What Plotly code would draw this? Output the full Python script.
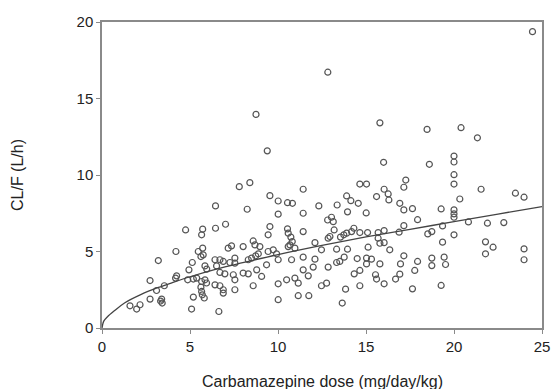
import plotly.graph_objects as go

dose_a = [24.46, 20.4, 21.33, 20.0, 20.0, 20.0, 20.0, 21.54, 23.49, 23.98, 20.33, 19.27, 20.0, 20.0, 20.0,
          20.82, 21.9, 22.83, 19.35, 19.35, 20.0, 21.79, 22.22, 21.79, 23.98, 23.98, 19.44, 19.52, 19.27]
clf_a = [19.37, 13.09, 12.43, 11.24, 10.85, 10.02, 9.41, 9.07, 8.81, 8.55, 8.43, 7.78, 7.72, 7.46, 7.24,
         6.93, 6.85, 6.89, 6.67, 5.61, 6.09, 5.63, 5.28, 4.85, 5.17, 4.46, 4.63, 4.15, 2.78]

dose_b = [18.47, 18.6, 17.26, 17.15, 16.92, 17.15, 17.64, 17.93, 17.15, 16.88, 18.51, 18.74, 17.15, 16.96,
          17.93, 17.77, 18.74, 18.74, 16.92, 16.68, 17.64]
clf_b = [12.98, 10.7, 9.67, 9.2, 8.15, 7.72, 7.8, 7.08, 6.69, 6.26, 6.15, 6.3, 4.72, 4.19,
         4.35, 3.76, 4.57, 4.08, 3.52, 3.2, 2.56]

dose_c = [15.79, 16.0, 14.65, 15.03, 16.03, 16.26, 16.3, 15.6, 13.9, 14.14, 14.56, 13.36, 13.95, 15.01,
          13.04, 13.14, 12.82, 14.31, 14.18, 13.9, 13.74, 13.55, 14.65, 15.09, 15.69, 16.03, 13.19, 12.95,
          15.69, 15.79, 16.03, 16.35, 15.12, 12.85, 13.33, 13.95, 13.76, 13.51, 13.33, 14.5, 15.03, 15.31,
          15.79, 15.03, 12.85, 14.65, 14.33, 15.54, 15.6, 16.03, 14.65, 13.84, 13.65, 12.76, 12.83]
clf_c = [13.41, 10.83, 9.41, 9.41, 9.07, 8.76, 8.37, 8.59, 8.63, 8.32, 8.15, 8.04, 7.59, 7.52,
         7.24, 6.95, 7.06, 6.52, 6.3, 6.2, 6.09, 5.94, 6.24, 6.24, 6.24, 6.37, 6.41, 5.98,
         5.87, 5.54, 5.58, 5.11, 5.28, 5.87, 5.15, 5.15, 4.63, 4.35, 4.28, 4.54, 4.57, 4.5,
         4.19, 4.19, 3.98, 3.76, 3.54, 3.48, 3.2, 2.89, 2.76, 2.54, 1.63, 2.93, 16.72]

dose_d = [8.75, 9.39, 7.8, 8.4, 11.43, 9.54, 10.01, 10.54, 10.82, 12.32, 8.25, 10.01, 11.43, 7.02, 9.54,
          10.54, 9.44, 11.43, 10.58, 10.73, 10.81, 10.68, 12.1, 8.59, 8.69, 8.97, 7.36, 7.17, 8.02, 9.44,
          9.73, 9.92, 10.58, 10.96, 12.47, 6.7, 6.89, 7.27, 7.55, 7.55, 8.31, 8.5, 8.73, 8.88, 10.01,
          10.77, 11.43, 12.1, 12.0, 6.7, 6.98, 7.46, 7.55, 8.02, 8.31, 8.79, 9.07, 9.35, 11.43, 11.72,
          6.7, 6.89, 6.89, 7.55, 8.59, 10.01, 10.49, 10.96, 11.15, 12.47, 10.01, 11.15, 11.75]
clf_d = [13.96, 11.58, 9.24, 9.5, 9.07, 8.65, 8.3, 8.19, 8.15, 7.98, 7.76, 7.44, 7.5, 6.78, 6.63,
         6.48, 6.09, 6.3, 6.2, 5.94, 5.65, 5.43, 5.58, 5.69, 5.43, 5.32, 5.37, 5.22, 5.32, 5.0,
         5.11, 4.85, 5.32, 5.22, 5.11, 4.46, 4.35, 4.28, 4.57, 4.24, 4.46, 4.57, 4.72, 4.85, 4.46,
         4.46, 4.63, 4.5, 3.98, 3.63, 3.54, 3.48, 3.15, 3.59, 3.54, 3.8, 3.37, 4.13, 3.8, 3.41,
         2.76, 2.5, 2.28, 2.5, 2.76, 2.89, 3.15, 3.26, 2.93, 2.76, 1.85, 2.11, 2.11]

dose_e = [4.75, 5.72, 5.66, 6.45, 6.45, 4.2, 3.2, 5.47, 5.72, 5.62, 5.75, 5.13, 4.94, 5.85, 5.95, 6.42,
          6.51, 4.24, 4.18, 2.73, 3.54, 4.87, 5.19, 5.38, 5.66, 5.85, 5.94, 6.42, 3.1, 5.62, 5.66, 5.7,
          5.81, 5.19, 2.73, 3.39, 3.42, 3.33, 1.59, 1.97, 2.16, 5.09, 6.64]
clf_e = [6.41, 6.46, 6.09, 7.98, 6.52, 5.0, 4.41, 5.0, 5.22, 4.67, 4.78, 4.28, 3.8, 4.06, 3.85, 4.46,
         4.06, 3.41, 3.26, 3.1, 2.76, 3.15, 3.2, 3.26, 3.04, 3.15, 2.94, 2.82, 2.45, 2.67, 2.39, 2.17,
         1.96, 2.02, 1.89, 1.89, 1.63, 1.76, 1.45, 1.24, 1.52, 1.24, 1.08]

# Fitted population curve
fit_dose = [0, 0.1, 0.3, 0.7, 1.3, 2.2, 3.2, 4.0, 5.0, 6.5, 8.0, 10.0, 12.5, 15.0, 17.5, 20.0, 22.5, 25.0]
fit_clf = [0, 0.45, 0.72, 1.12, 1.65, 2.18, 2.65, 2.97, 3.35, 3.85, 4.27, 4.8, 5.4, 5.95, 6.45, 6.95, 7.45, 7.93]

x_ticks = [0, 5, 10, 15, 20, 25]
y_ticks = [0, 5, 10, 15, 20]
x_title = "Carbamazepine dose (mg/day/kg)"
y_title = "CL/F (L/h)"

dose = dose_a + dose_b + dose_c + dose_d + dose_e
clf = clf_a + clf_b + clf_c + clf_d + clf_e

FONT = "Liberation Sans, Arial, sans-serif"

fig = go.Figure()
fig.add_trace(go.Scatter(
    x=dose, y=clf, mode="markers",
    marker=dict(symbol="circle-open", size=6, color="#555555", line=dict(width=1.2, color="#555555")),
    showlegend=False, cliponaxis=False,
))
fig.add_trace(go.Scatter(
    x=fit_dose, y=fit_clf, mode="lines", line=dict(color="#444444", width=1.3, shape="spline"),
    showlegend=False,
))

axis_common = dict(
    showgrid=False, zeroline=False, showline=True, linecolor="#8a8a8a", linewidth=1.5,
    mirror=True, ticks="outside", ticklen=4, tickcolor="#8a8a8a", tickwidth=1,
    automargin=False,
    tickfont=dict(family=FONT, size=15, color="#222222"),
)

fig.update_layout(
    width=551, height=389,
    margin=dict(l=102, r=9, t=22, b=61),
    paper_bgcolor="white", plot_bgcolor="white",
    xaxis=dict(range=[0, 25], tickvals=x_ticks, **axis_common),
    yaxis=dict(range=[0, 20], tickvals=y_ticks, **axis_common),
    annotations=[
        dict(text=x_title, xref="paper", yref="paper", x=0.5, y=0, yshift=-53,
             xanchor="center", yanchor="middle", showarrow=False,
             font=dict(family=FONT, size=16, color="#222222")),
        dict(text=y_title, xref="paper", yref="paper", x=0, y=0.5, xshift=-85,
             xanchor="center", yanchor="middle", textangle=-90, showarrow=False,
             font=dict(family=FONT, size=16, color="#222222")),
    ],
)

# Remove the browser's default 8px page margin so the 551x389 figure fills the window exactly.
fig.write_html("out.html",
               config={"displayModeBar": False},
               post_script="document.body.style.margin='0';document.body.style.overflow='hidden';")
